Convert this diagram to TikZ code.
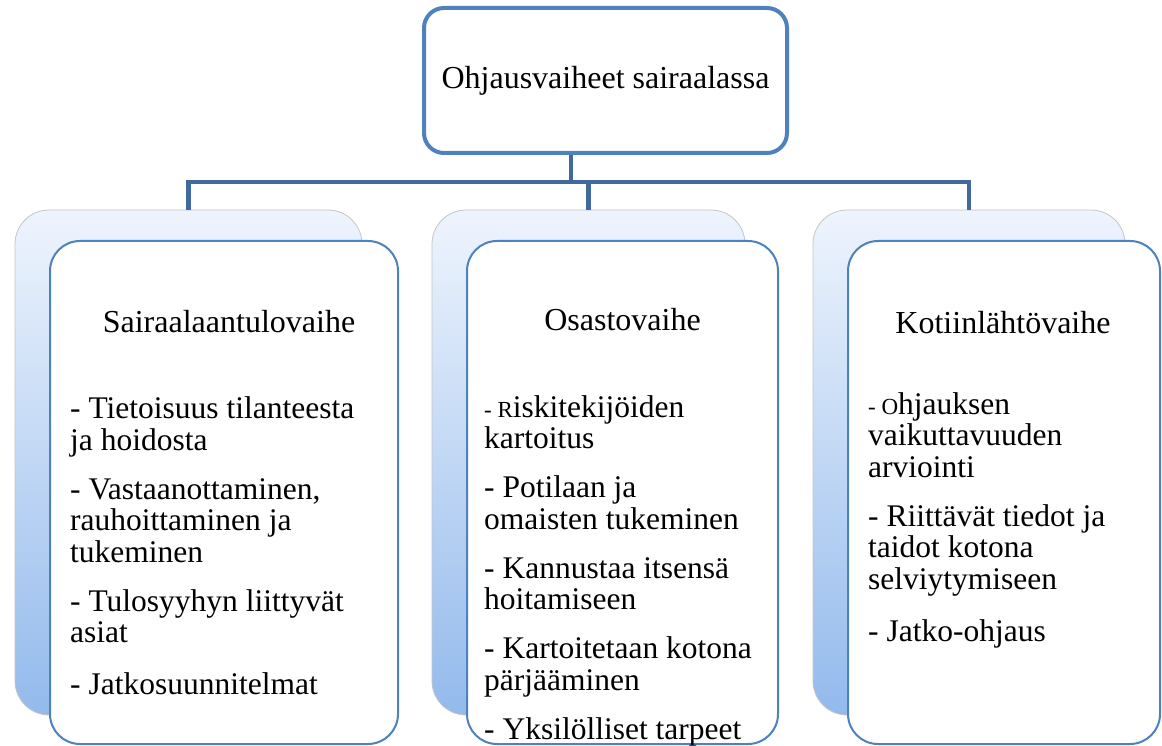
\documentclass[tikz,border=0pt]{standalone}
\usepackage{fontspec}
\setmainfont{Liberation Serif}
\definecolor{boxblue}{HTML}{4F81BD}
\definecolor{connblue}{HTML}{41699E}
\definecolor{backtop}{HTML}{EEF4FD}
\definecolor{backbot}{HTML}{93BAEC}
\begin{document}
\begin{tikzpicture}[x=1pt,y=-1pt,
 topbox/.style={draw=boxblue, line width=4pt, fill=white, rounded corners=20pt, minimum width=363pt, minimum height=145pt, inner sep=0pt, font=\fontsize{32}{36}\selectfont},
 backbox/.style={draw=gray!45, line width=0.8pt, top color=backtop, bottom color=backbot, rounded corners=34pt, minimum height=505pt, inner sep=0pt},
 frontbox/.style={draw=boxblue, line width=2pt, fill=white, rounded corners=30pt, minimum height=503pt, inner sep=0pt},
 conn/.style={draw=connblue, line width=4.5pt},
 ttl/.style={font=\fontsize{32}{36}\selectfont, inner sep=0pt, anchor=base},
 lst/.style={font=\fontsize{31.5}{31.5}\selectfont, align=left, anchor=north west, inner sep=0pt}]
\useasboundingbox (0,0) rectangle (1162,746);
\fill[white] (0,0) rectangle (1162,746);

\node[topbox] (top) at (605.5,80.5) {Ohjausvaiheet sairaalassa};

\node[backbox, minimum width=347pt] (b1) at (188.5,462.5) {};
\node[frontbox, minimum width=348pt] (f1) at (224,492.5) {};
\node[backbox, minimum width=313pt] (b2) at (588.5,462.5) {};
\node[frontbox, minimum width=311pt] (f2) at (622.5,492.5) {};
\node[backbox, minimum width=312pt] (b3) at (969,462.5) {};
\node[frontbox, minimum width=312pt] (f3) at (1004,492.5) {};

\coordinate (bus) at (0,182);
\draw[conn] ([xshift=-34.5pt]top.south) -- ([xshift=-34.5pt]top.south |- bus);
\draw[conn] (b1.north) -- (b1.north |- bus) -- (b3.north |- bus) -- (b3.north);
\draw[conn] (b2.north |- bus) -- (b2.north);

\node[ttl] (t1) at (229,332) {Sairaalaantulovaihe};
\node[ttl] (t2) at (622.5,330) {Osastovaihe};
\node[ttl] (t3) at (1003,333) {Kotiinlähtövaihe};

\node[lst] (l1) at (70,396.5) {- Tietoisuus tilanteesta\\ja hoidosta\\[17.5pt]- Vastaanottaminen,\\rauhoittaminen ja\\tukeminen\\[17.5pt]- Tulosyyhyn liittyvät\\asiat\\[20.5pt]- Jatkosuunnitelmat};
\node[lst] (l2) at (484,395) {{\fontsize{23}{31}\selectfont - R}iskitekijöiden\\kartoitus\\[17.5pt]- Potilaan ja\\omaisten tukeminen\\[17.5pt]- Kannustaa itsensä\\hoitamiseen\\[17.5pt]- Kartoitetaan kotona\\pärjääminen\\[17.5pt]- Yksilölliset tarpeet};
\node[lst] (l3) at (868,392) {{\fontsize{23}{31}\selectfont - O}hjauksen\\vaikuttavuuden\\arviointi\\[17.5pt]- Riittävät tiedot ja\\taidot kotona\\selviytymiseen\\[21pt]- Jatko-ohjaus};
\end{tikzpicture}
\end{document}
